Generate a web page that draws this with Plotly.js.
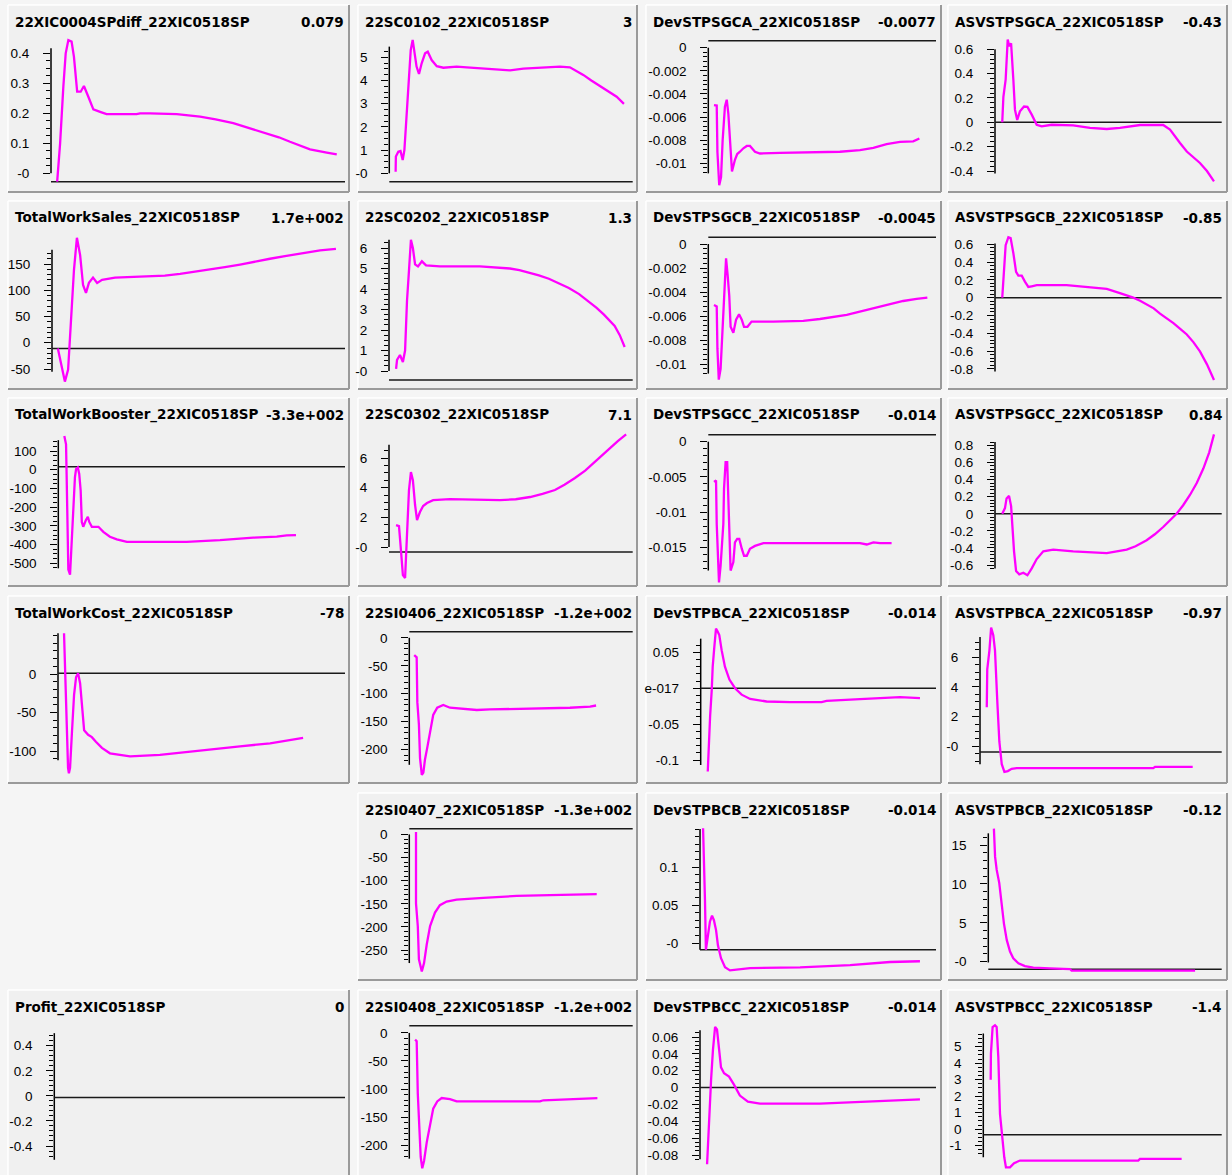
<!DOCTYPE html>
<html><head><meta charset="utf-8">
<script src="https://cdn.plot.ly/plotly-3.0.1.min.js"></script>
<style>html,body{margin:0;padding:0;background:#f5f5f5}</style>
</head><body><div id="chart" style="width:1232px;height:1175px"></div>
<script>
// ---------- texts ----------
const titles = ['22XIC0004SPdiff_22XIC0518SP','22SC0102_22XIC0518SP','DevSTPSGCA_22XIC0518SP','ASVSTPSGCA_22XIC0518SP',
 'TotalWorkSales_22XIC0518SP','22SC0202_22XIC0518SP','DevSTPSGCB_22XIC0518SP','ASVSTPSGCB_22XIC0518SP',
 'TotalWorkBooster_22XIC0518SP','22SC0302_22XIC0518SP','DevSTPSGCC_22XIC0518SP','ASVSTPSGCC_22XIC0518SP',
 'TotalWorkCost_22XIC0518SP','22SI0406_22XIC0518SP','DevSTPBCA_22XIC0518SP','ASVSTPBCA_22XIC0518SP',
 '22SI0407_22XIC0518SP','DevSTPBCB_22XIC0518SP','ASVSTPBCB_22XIC0518SP',
 'Profit_22XIC0518SP','22SI0408_22XIC0518SP','DevSTPBCC_22XIC0518SP','ASVSTPBCC_22XIC0518SP'];
const lastValues = ['0.079','3','-0.0077','-0.43','1.7e+002','1.3','-0.0045','-0.85','-3.3e+002','7.1','-0.014','0.84',
 '-78','-1.2e+002','-0.014','-0.97','-1.3e+002','-0.014','-0.12','0','-1.2e+002','-0.014','-1.4'];

// ---------- tick labels ----------
const tickLabels = [
 ['-0','0.1','0.2','0.3','0.4'],
 ['-0','1','2','3','4','5'],
 ['0','-0.002','-0.004','-0.006','-0.008','-0.01'],
 ['0.6','0.4','0.2','0','-0.2','-0.4'],
 ['150','100','50','0','-50'],
 ['6','5','4','3','2','1','-0'],
 ['0','-0.002','-0.004','-0.006','-0.008','-0.01'],
 ['0.6','0.4','0.2','0','-0.2','-0.4','-0.6','-0.8'],
 ['100','0','-100','-200','-300','-400','-500'],
 ['6','4','2','-0'],
 ['0','-0.005','-0.01','-0.015'],
 ['0.8','0.6','0.4','0.2','0','-0.2','-0.4','-0.6'],
 ['0','-50','-100'],
 ['0','-50','-100','-150','-200'],
 ['0.05','e-017','-0.05','-0.1'],
 ['6','4','2','-0'],
 ['0','-50','-100','-150','-200','-250'],
 ['0.1','0.05','-0'],
 ['15','10','5','-0'],
 ['0.4','0.2','0','-0.2','-0.4'],
 ['0','-50','-100','-150','-200'],
 ['0.06','0.04','0.02','0','-0.02','-0.04','-0.06','-0.08'],
 ['5','4','3','2','1','0','-1']
];

// ---------- series (t = % of run time, y = value) ----------
const t_XIC0004diff = [2.1,3.1,4.2,5.0,5.9,7.0,7.8,8.9,10.1,11.2,12.7,14.4,16.7,18.9,29.1,30.3,33.7,42.8,50.7,56.0,62.0,67.5,73.4,77.5,81.3,85.0,88.1,93.8,97.2];
const y_XIC0004diff = [-0.028,0.1,0.289,0.4,0.444,0.439,0.389,0.272,0.272,0.291,0.255,0.213,0.205,0.197,0.197,0.2,0.2,0.197,0.189,0.18,0.167,0.151,0.133,0.12,0.105,0.091,0.08,0.069,0.063];
const t_SC0102 = [2.6,2.7,3.7,4.6,5.5,6.2,6.9,7.4,8.1,8.8,9.6,10.3,11.2,12.2,13.3,14.7,15.8,17.4,19.5,22.2,27.7,31.8,41.4,49.6,55.1,63.3,70.1,74.2,77.0,79.7,83.0,86.6,90.0,93.4,96.4];
const y_SC0102 = [0.07,0.72,0.93,0.96,0.57,1.0,2.15,3.0,4.02,5.31,5.75,5.31,4.6,4.28,4.74,5.17,5.24,4.88,4.62,4.55,4.6,4.57,4.51,4.44,4.51,4.57,4.6,4.57,4.42,4.24,4.0,3.76,3.53,3.3,2.99];
const t_DevSGCA = [2.5,3.7,4.0,4.8,5.6,6.3,7.3,8.1,8.8,9.8,10.4,11.7,12.7,13.9,15.4,16.9,18.3,20.5,22.7,31.5,57.8,66.6,72.5,78.3,84.2,90.0,92.7];
const y_DevSGCA = [-0.00496,-0.005,-0.009,-0.0119,-0.0112,-0.008,-0.0051,-0.0045,-0.0057,-0.0087,-0.0107,-0.0097,-0.0092,-0.009,-0.0087,-0.0085,-0.0085,-0.009,-0.00915,-0.0091,-0.009,-0.00886,-0.00866,-0.00834,-0.00814,-0.0081,-0.00785];
const t_AsvSGCA = [3.2,3.7,4.7,5.6,6.3,7.1,8.1,8.8,9.8,11.0,12.8,14.3,16.2,18.4,20.6,25.0,34.5,41.9,49.3,55.1,64.0,74.2,77.2,79.5,81.6,84.6,87.5,90.4,93.5,96.6];
const y_AsvSGCA = [0,0.21,0.35,0.68,0.625,0.65,0.35,0.104,0.02,0.09,0.13,0.127,0.063,-0.02,-0.033,-0.02,-0.025,-0.046,-0.055,-0.045,-0.022,-0.022,-0.06,-0.12,-0.17,-0.24,-0.285,-0.334,-0.4,-0.486];
const t_WorkSales = [2.0,3.1,4.4,5.5,6.5,7.5,8.5,9.6,10.6,11.6,12.6,14.0,15.4,17.1,21.5,27.0,33.4,38.5,43.7,48.8,53.9,59.0,64.2,69.3,74.4,79.5,84.6,91.5,96.9];
const y_WorkSales = [-11,-42,-74,-51,44,139,200,167,110,95,114,124,114,120,124,125,126,128,131,135,139,144,149,155,160,165,170,176,179];
const t_SC0202 = [2.9,3.3,4.5,5.7,6.6,7.4,8.2,9.0,9.8,10.7,11.9,13.5,15.2,20.9,37.3,45.0,49.6,53.5,57.4,61.5,65.6,69.7,73.8,78.0,82.0,85.2,88.2,90.5,92.6,94.7,96.7];
const y_SC0202 = [0.1,0.54,0.78,0.44,1.0,3.45,4.9,6.4,6.0,5.2,5.1,5.35,5.15,5.1,5.1,5.06,5.0,4.92,4.8,4.66,4.5,4.29,4.05,3.75,3.4,3.08,2.75,2.48,2.2,1.75,1.17];
const t_DevSGCB = [2.5,3.7,4.0,4.6,5.4,6.3,6.9,7.8,8.5,9.2,9.8,11.0,12.2,13.5,14.7,15.7,17.2,19.0,28.5,41.7,49.0,55.0,60.8,65.2,69.6,74.0,78.3,82.0,85.6,91.5,96.2];
const y_DevSGCB = [-0.00508,-0.0052,-0.0087,-0.0113,-0.0104,-0.007,-0.0038,-0.0012,-0.0026,-0.0043,-0.0069,-0.0074,-0.0063,-0.00586,-0.0063,-0.0069,-0.0069,-0.00647,-0.00647,-0.0064,-0.00625,-0.0061,-0.0059,-0.0057,-0.0055,-0.0053,-0.0051,-0.0049,-0.00475,-0.00458,-0.00447];
const t_AsvSGCB = [3.2,3.7,4.7,5.9,6.9,8.1,9.3,10.3,11.8,13.2,14.7,16.2,18.4,31.6,41.9,49.3,55.1,58.0,61.0,64.0,66.9,70.0,72.8,75.8,78.7,81.7,84.6,87.5,90.4,93.5,96.6];
const y_AsvSGCB = [0,0.226,0.59,0.68,0.67,0.5,0.29,0.247,0.247,0.18,0.12,0.128,0.14,0.14,0.12,0.098,0.051,0.027,0,-0.034,-0.072,-0.12,-0.18,-0.23,-0.286,-0.35,-0.414,-0.5,-0.605,-0.75,-0.925];
const t_WorkBooster = [2.1,2.7,2.9,3.3,3.5,4.1,4.4,4.9,5.4,5.8,6.2,6.8,7.3,7.8,8.2,8.7,9.6,10.3,10.8,11.7,14.0,15.7,18.0,20.4,23.9,44.8,56.4,68.0,76.2,79.7,82.9];
const y_WorkBooster = [180,136,-23,-323,-534,-561,-464,-323,-164,-41,4,12,-23,-111,-279,-305,-270,-252,-279,-305,-305,-332,-358,-372,-385,-385,-376,-363,-358,-351,-349];
const t_SC0302 = [2.9,4.1,4.9,5.7,6.6,7.4,8.2,9.0,9.8,10.7,11.5,12.7,14.0,15.6,18.1,25.0,45.5,52.0,57.9,63.0,68.1,72.0,76.3,80.5,84.5,87.8,90.7,94.0,97.3];
const y_SC0302 = [1.48,1.41,-0.2,-1.89,-2.09,1.14,3.84,5.05,4.5,2.83,1.82,2.36,2.76,2.96,3.16,3.23,3.16,3.22,3.37,3.58,3.84,4.2,4.65,5.15,5.72,6.2,6.67,7.15,7.6];
const t_DevSGCC = [2.5,3.4,3.7,4.1,4.7,5.4,5.9,6.6,6.9,7.6,8.3,8.8,9.2,9.8,11.0,11.7,12.7,13.6,14.7,15.7,16.9,18.3,20.5,24.2,31.5,66.6,69.6,72.5,75.4,80.5];
const y_DevSGCC = [-0.0057,-0.0055,-0.0117,-0.016,-0.02,-0.0176,-0.0148,-0.0117,-0.0067,-0.0029,-0.0029,-0.0076,-0.0133,-0.0183,-0.0171,-0.0143,-0.0138,-0.0138,-0.0152,-0.0162,-0.0162,-0.0152,-0.0148,-0.0144,-0.0144,-0.0144,-0.0146,-0.0143,-0.0144,-0.0144];
const t_AsvSGCC = [3.2,4.4,5.1,6.2,7.1,7.6,8.4,9.3,10.7,12.5,14.3,16.2,18.4,21.3,25.7,34.5,49.3,58.1,62.0,66.9,70.5,74.2,77.0,80.1,83.0,86.0,89.0,91.9,94.5,96.6];
const y_AsvSGCC = [0,0.067,0.18,0.21,0.09,-0.18,-0.44,-0.67,-0.71,-0.69,-0.72,-0.64,-0.53,-0.44,-0.42,-0.44,-0.46,-0.42,-0.38,-0.31,-0.24,-0.155,-0.08,0,0.1,0.22,0.36,0.53,0.72,0.93];
const t_WorkCost = [2.1,2.4,2.8,3.1,3.5,3.8,4.2,4.9,5.6,6.3,7.0,7.7,8.4,9.1,10.5,11.8,13.2,15.3,18.1,25.1,35.5,49.5,63.4,73.9,80.8,85.4];
const y_WorkCost = [53,18,-34,-92,-122,-129,-122,-73,-27,-4,1,-12,-47,-73,-79,-82,-88,-96,-103,-107,-105,-99,-94,-90,-86,-83];
const t_SI0406 = [2.2,3.3,3.6,4.3,4.8,5.6,6.3,7.0,8.1,9.3,10.7,12.5,15.2,18.2,22.7,30.2,36.1,48.1,63.0,71.9,80.9,83.6];
const y_SI0406 = [-31,-35,-115,-155,-215,-245,-241,-218,-195,-165,-138,-125,-120,-125,-127,-129,-128,-127,-127,-125,-123,-121];
const t_DevBCA = [3.0,3.4,4.0,4.7,5.1,5.8,6.5,7.2,7.9,8.9,10.3,12.2,14.6,17.4,21.0,28.0,38.0,51.4,53.5,67.7,77.6,84.7,93.2];
const y_DevBCA = [-0.116,-0.076,-0.039,-0.002,0.03,0.058,0.083,0.079,0.074,0.053,0.03,0.012,0,-0.009,-0.015,-0.0185,-0.0195,-0.0195,-0.0176,-0.0153,-0.0139,-0.0125,-0.0139];
const t_AsvBCA = [2.8,3.0,3.9,4.6,5.5,6.2,7.2,8.0,9.0,10.1,11.5,13.1,15.2,38.6,71.7,72.4,88.0];
const y_AsvBCA = [2.63,5.18,6.46,8.0,7.48,6.46,2.89,0.33,-1.2,-1.71,-1.66,-1.51,-1.46,-1.46,-1.46,-1.38,-1.38];
const t_SI0407 = [3.0,3.0,3.8,4.3,5.6,6.6,7.8,9.3,11.5,13.7,16.7,21.2,33.1,48.1,63.0,74.9,83.9];
const y_SI0407 = [5,-149,-198,-270,-296,-278,-238,-198,-169,-153,-145,-141,-137,-133,-131,-129,-129];
const t_DevBCB = [1.3,1.7,2.1,2.5,3.4,4.2,5.1,5.9,6.8,7.6,8.9,10.6,12.7,21.2,42.4,63.6,80.5,93.2];
const y_DevBCB = [0.151,0.109,0.057,-0.009,0.011,0.028,0.036,0.03,0.017,-0.003,-0.02,-0.032,-0.036,-0.033,-0.032,-0.029,-0.025,-0.024];
const t_AsvBCB = [2.4,2.9,3.6,4.7,5.7,6.7,7.9,9.3,10.7,12.9,15.7,19.3,26.4,35.0,35.7,50.7,88.6];
const y_AsvBCB = [17.1,13.5,11.8,10.1,7.5,4.9,2.8,1.3,0.43,-0.21,-0.56,-0.77,-0.86,-0.94,-1.16,-1.16,-1.16];
const t_Profit = [];
const y_Profit = [];
const t_SI0408 = [2.6,3.3,3.8,4.3,5.1,5.8,6.6,7.8,9.3,10.7,12.5,14.5,18.2,21.2,40.6,58.5,60.0,77.9,84.2];
const y_SI0408 = [-12,-15,-108,-155,-221,-241,-228,-195,-161,-135,-122,-116,-118,-122,-122,-122,-120,-118,-116];
const t_DevBCC = [3.0,3.8,4.7,5.5,6.4,7.2,8.1,8.9,10.2,12.3,14.4,16.9,20.3,25.4,50.8,72.0,93.2];
const y_DevBCC = [-0.091,-0.038,0.0095,0.045,0.072,0.069,0.045,0.024,0.017,0.013,0.0035,-0.0095,-0.0166,-0.019,-0.019,-0.0166,-0.014];
const t_AsvBCC = [3.1,3.2,3.9,4.9,5.6,6.3,7.0,8.0,8.8,9.5,11.2,12.9,15.4,23.8,65.0,65.7,83.2];
const y_AsvBCC = [3.0,4.57,6.19,6.3,6.19,4.37,0.93,-0.69,-1.7,-2.31,-2.31,-2.06,-1.9,-1.9,-1.9,-1.8,-1.8];

const seriesT = [t_XIC0004diff,t_SC0102,t_DevSGCA,t_AsvSGCA,t_WorkSales,t_SC0202,t_DevSGCB,t_AsvSGCB,t_WorkBooster,t_SC0302,t_DevSGCC,t_AsvSGCC,t_WorkCost,t_SI0406,t_DevBCA,t_AsvBCA,t_SI0407,t_DevBCB,t_AsvBCB,t_Profit,t_SI0408,t_DevBCC,t_AsvBCC];
const seriesY = [y_XIC0004diff,y_SC0102,y_DevSGCA,y_AsvSGCA,y_WorkSales,y_SC0202,y_DevSGCB,y_AsvSGCB,y_WorkBooster,y_SC0302,y_DevSGCC,y_AsvSGCC,y_WorkCost,y_SI0406,y_DevBCA,y_AsvBCA,y_SI0407,y_DevBCB,y_AsvBCB,y_Profit,y_SI0408,y_DevBCC,y_AsvBCC];

// ---------- layout geometry (pixels) ----------
const W = 1232, H = 1175;
const colX = [[8,349],[358,637],[646,941],[948,1227]];
const rowY = [[5,192],[201,389],[398,586],[596,783],[793,980],[990,1178]];
const cell = [[0,0],[1,0],[2,0],[3,0],[0,1],[1,1],[2,1],[3,1],[0,2],[1,2],[2,2],[3,2],[0,3],[1,3],[2,3],[3,3],[1,4],[2,4],[3,4],[0,5],[1,5],[2,5],[3,5]];
const axisX = [51,389.3,708.3,995, 52,389,708.3,995, 58.3,389,708.3,995, 58,409.3,700.7,980, 409.3,700,988.3, 54.3,409.3,700,983.3];
const rightX = [345,632.7,936,1221.7];
// y scale anchors: [value1, pixel1, value2, pixel2]
const yRef = [[0.4,53.3,0,173.3],[5,57.3,0,173.3],[0,47.7,-0.01,163.3],[0.6,49.3,-0.4,171],
 [150,264,-50,369],[6,248,0,371],[0,244,-0.01,364],[0.6,244.3,-0.8,368.8],
 [100,451,-500,563.3],[6,458,0,547],[0,441.7,-0.015,547.3],[0.8,445.5,-0.6,565],
 [0,674,-100,751],[0,637.8,-200,749.7],[0.05,652.3,-0.1,760],[6,657.2,0,746.4],
 [0,834.4,-250,950.1],[0.1,867,0,943],[15,845,0,961.7],
 [0.4,1045.7,-0.4,1146],[0,1032.9,-200,1145.2],[0.06,1037,-0.08,1155],[5,1046.7,-1,1145.7]];
const axisSpan = [[0,0.417],[0,5.46],[-0.01087,0],[-0.42,0.6],[-55,177],[0,6.4],[-0.0108,0],[-0.83,0.61],
 [-527,158],[0,6.9],[-0.0183,0],[-0.64,0.84],[-112,53],[-227,0],[-0.107,0.069],[-1.2,7.36],
 [-278,0],[-0.009,0.15],[-0.1,16.5],[-0.51,0.5],[-224,0],[-0.085,0.068],[-1.7,5.8]];
const baseLine = [-0.028,-0.36,0.0006,0,-11,-0.44,0.00056,0,16,-0.34,0.001,0,1,10.7,0,-0.38,12,-0.009,-0.98,-0.013,12.6,0,-0.34];
const minorStep = [0.025,0.25,0.0004,0.04,10,0.25,0.0004,0.04,25,0.5,0.001,0.04,10,10,0.01,0.5,10,0.01,1,0.04,10,0.005,0.25];

const traces = [], shapes = [], annotations = [];
const layout = {width:W, height:H, margin:{l:0,r:0,t:0,b:0}, paper_bgcolor:'#f5f5f5', plot_bgcolor:'rgba(0,0,0,0)', showlegend:false};
const px = v => v / W, py = v => 1 - v / H;

titles.forEach((title, i) => {
  const n = i + 1, sfx = n > 1 ? String(n) : '';
  const [c, r] = cell[i];
  const [bx0, bx1] = colX[c], [by0, by1] = rowY[r];
  const ax = axisX[i], rx = rightX[c];
  const top = by0 + 30, bot = Math.min(by1 - 3, H);
  const [v1, p1, v2, p2] = yRef[i];
  const val = p => v1 + (p - p1) * (v2 - v1) / (p2 - p1);

  // panel box
  shapes.push({type:'rect', xref:'paper', yref:'paper', x0:px(bx0), x1:px(bx1), y0:py(by1), y1:py(by0), fillcolor:'#f0f0f0', line:{width:0}, layer:'below'});
  shapes.push({type:'line', xref:'paper', yref:'paper', x0:px(bx0), x1:px(bx1), y0:py(by0), y1:py(by0), line:{color:'#ffffff', width:1.5}, layer:'below'});
  shapes.push({type:'line', xref:'paper', yref:'paper', x0:px(bx0), x1:px(bx0), y0:py(by1), y1:py(by0), line:{color:'#ffffff', width:1.5}, layer:'below'});
  shapes.push({type:'line', xref:'paper', yref:'paper', x0:px(bx0), x1:px(bx1), y0:py(by1), y1:py(by1), line:{color:'#9a9a9a', width:2}, layer:'below'});
  shapes.push({type:'line', xref:'paper', yref:'paper', x0:px(bx1), x1:px(bx1), y0:py(by1), y1:py(by0), line:{color:'#9a9a9a', width:2}, layer:'below'});

  const labels = tickLabels[i];
  const tickvals = labels.map(s => s === 'e-017' ? 0 : parseFloat(s));
  const [lo, hi] = axisSpan[i];
  const st = minorStep[i];
  const minorVals = [];
  for (let k = Math.ceil(lo / st - 1e-6); k <= Math.floor(hi / st + 1e-6); k++) {
    const v = +(k * st).toFixed(8);
    if (!tickvals.some(tv => Math.abs(tv - v) < st * 0.3)) minorVals.push(v);
  }

  layout['xaxis' + sfx] = {domain:[px(ax), px(rx)], range:[0, 100], visible:false, anchor:'y' + sfx, fixedrange:true};
  layout['yaxis' + sfx] = {
    domain:[py(bot), py(top)], range:[val(bot), val(top)], anchor:'x' + sfx,
    tickmode:'array', tickvals:tickvals, ticktext:labels,
    ticks:'outside', ticklen:7, tickwidth:1, tickcolor:'#000',
    showgrid:false, zeroline:false, showline:false, fixedrange:true,
    ticklabelstandoff:11,
    tickfont:{family:'Liberation Sans, Arial, sans-serif', size:13.5, color:'#000'},
    minor:{tickmode:'array', tickvals:minorVals, ticks:'outside', ticklen:4, tickwidth:1, tickcolor:'#000', showgrid:false}
  };

  // vertical axis line and horizontal base line
  shapes.push({type:'line', xref:'paper', yref:'y' + sfx, x0:px(ax), x1:px(ax), y0:lo, y1:hi, line:{color:'#000', width:1.5}, layer:'below'});
  shapes.push({type:'line', xref:'paper', yref:'y' + sfx, x0:px(ax), x1:px(rx), y0:baseLine[i], y1:baseLine[i], line:{color:'#1a1a1a', width:1.5}, layer:'below'});

  traces.push({type:'scatter', mode:'lines', x:seriesT[i], y:seriesY[i], xaxis:'x' + sfx, yaxis:'y' + sfx,
    line:{color:'#ff00ff', width:2.3}, hoverinfo:'skip'});

  annotations.push({xref:'paper', yref:'paper', x:px(bx0 + 5), y:py(by0 + 17), xanchor:'left', yanchor:'middle', showarrow:false,
    text:title, font:{family:'DejaVu Sans, sans-serif', size:13.5, weight:'bold', color:'#000'}});
  annotations.push({xref:'paper', yref:'paper', x:px(bx1 - 3), y:py(by0 + 17), xanchor:'right', yanchor:'middle', showarrow:false,
    text:lastValues[i], font:{family:'DejaVu Sans, sans-serif', size:13.5, weight:'bold', color:'#000'}});
});

layout.shapes = shapes;
layout.annotations = annotations;
Plotly.newPlot('chart', traces, layout, {staticPlot:true, displayModeBar:false});
</script>
</body></html>
